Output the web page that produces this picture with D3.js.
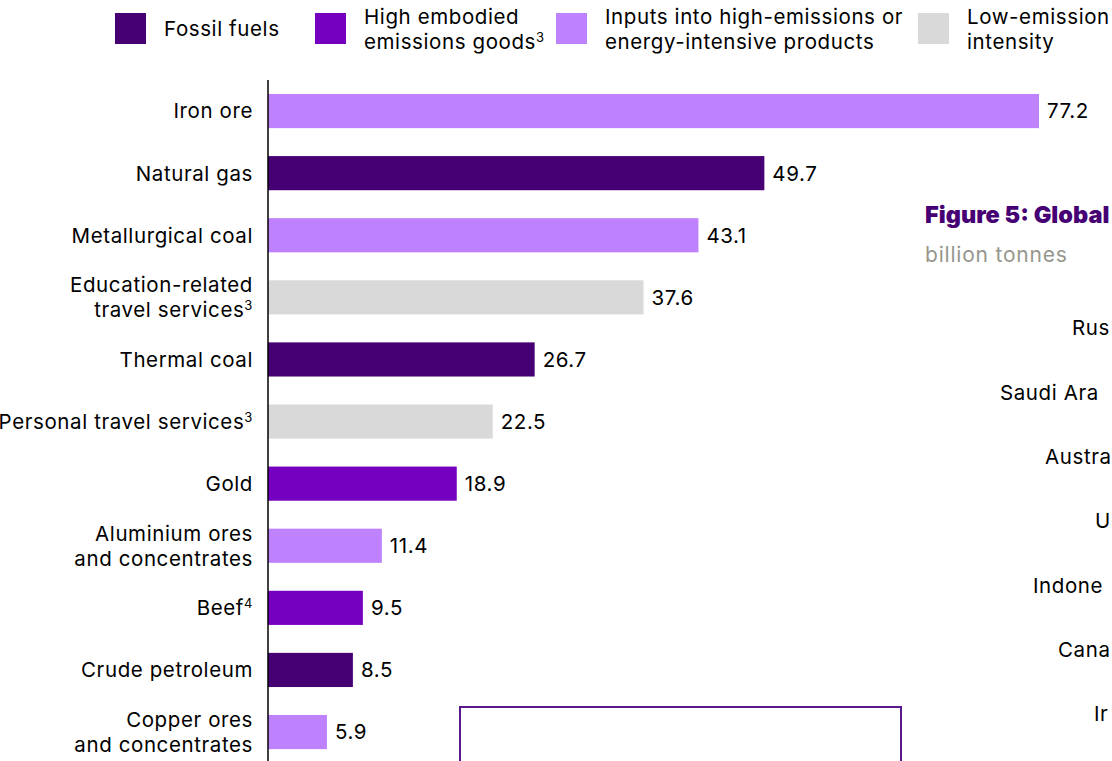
<!DOCTYPE html>
<html><head><meta charset="utf-8">
<script src="https://cdn.jsdelivr.net/npm/d3@7"></script>
<style>
html,body{margin:0;padding:0;background:#fff;overflow:hidden}
svg{display:block;font-family:Inter,"Noto Sans",sans-serif}
</style></head><body>
<svg id="c" width="1112" height="761"></svg>
<script>
// ---- data ----
const categories = [
  ["Iron ore"],
  ["Natural gas"],
  ["Metallurgical coal"],
  ["Education-related", "travel services|3"],
  ["Thermal coal"],
  ["Personal travel services|3"],
  ["Gold"],
  ["Aluminium ores", "and concentrates"],
  ["Beef|4"],
  ["Crude petroleum"],
  ["Copper ores", "and concentrates"]
];
const values = [77.2, 49.7, 43.1, 37.6, 26.7, 22.5, 18.9, 11.4, 9.5, 8.5, 5.9];
const groups = ["inputs","fossil","inputs","low","fossil","low","high","inputs","high","fossil","inputs"];
const legendKeys = ["fossil","high","inputs","low"];
const legendLabels = [["Fossil fuels"],["High embodied","emissions goods|3"],["Inputs into high-emissions or","energy-intensive products"],["Low-emission","intensity"]];
const colors = {fossil:"#460073", high:"#7500c0", inputs:"#be82ff", low:"#d9d9d9"};
// fragment of the neighbouring figure visible at the right edge (as shown, cropped)
const fig5Title = "Figure 5: Global";
const fig5Unit = "billion tonnes";
const fig5Countries = ["Rus","Saudi Ara","Austra","U","Indone","Cana","Ir"];

const svg = d3.select("#c");
const ids = categories.map((c,i)=>i);
const FS = "20.5px", LS = "0.6px";

const y = d3.scaleBand().domain(ids).range([80, 763.1]).paddingInner(0.45).paddingOuter(0.225);
const x = d3.scaleLinear().domain([0, 77.2]).range([268, 1039]);

// bars
svg.append("g").selectAll("rect").data(ids).join("rect")
  .attr("x", x(0)).attr("y", i=>y(i)).attr("height", y.bandwidth())
  .attr("width", i=>x(values[i])-x(0)).attr("fill", i=>colors[groups[i]]);

// value labels
svg.append("g").attr("font-size",FS).attr("letter-spacing",LS).selectAll("text").data(ids).join("text")
  .attr("x", i=>x(values[i])+8).attr("y", i=>y(i)+y.bandwidth()/2).attr("dy","0.36em")
  .attr("fill","#000").text(i=>values[i].toFixed(1));

// category labels
const lab = svg.append("g").attr("text-anchor","end").attr("font-size",FS).attr("letter-spacing",LS).attr("fill","#000");
ids.forEach(i=>{
  const lines = categories[i];
  const n = lines.length, lh = 25;
  const cy = y(i)+y.bandwidth()/2;
  lines.forEach((ln,k)=>{
    const [txt, sup] = ln.split("|");
    const t = lab.append("text").attr("x", 253).attr("y", cy + (k-(n-1)/2)*lh).attr("dy","0.36em");
    t.append("tspan").text(txt);
    if (sup) t.append("tspan").attr("dy","-7px").attr("font-size","13px").text(sup);
  });
});

// axis line
svg.append("line").attr("x1",268).attr("x2",268).attr("y1",80).attr("y2",761).attr("stroke","#000").attr("stroke-width",1.5);

// legend
const legX = [115, 315, 556, 918];
const lg = svg.append("g").attr("font-size",FS).attr("letter-spacing",LS).attr("fill","#000");
legendKeys.forEach((k,i)=>{
  lg.append("rect").attr("x",legX[i]).attr("y",13).attr("width",31).attr("height",31).attr("fill",colors[k]);
  const lines = legendLabels[i], n = lines.length;
  lines.forEach((ln,j)=>{
    const [txt, sup] = ln.split("|");
    const t = lg.append("text").attr("x",legX[i]+49).attr("y", 29 + (j-(n-1)/2)*25).attr("dy","0.36em");
    t.append("tspan").text(txt);
    if (sup) t.append("tspan").attr("dy","-7px").attr("font-size","13px").text(sup);
  });
});

// overlapping figure 5 fragment
svg.append("text").attr("x",925).attr("y",223).attr("font-size","23.5px").attr("font-weight",900).attr("fill","#460073").text(fig5Title);
svg.append("text").attr("x",925).attr("y",262).attr("font-size","21px").attr("letter-spacing","0.8px").attr("fill","#96968c").text(fig5Unit);
const cStarts = [1072, 1000, 1045, 1095, 1033, 1058, 1094];
fig5Countries.forEach((c,i)=>{
  svg.append("text").attr("x",cStarts[i]).attr("y",328+i*64.3).attr("dy","0.36em").attr("font-size",FS).attr("letter-spacing",LS).attr("fill","#000").text(c);
});

// box outline
svg.append("rect").attr("x",460).attr("y",707).attr("width",441).attr("height",80).attr("fill","none").attr("stroke","#5b1a8c").attr("stroke-width",2);
</script>
</body></html>
